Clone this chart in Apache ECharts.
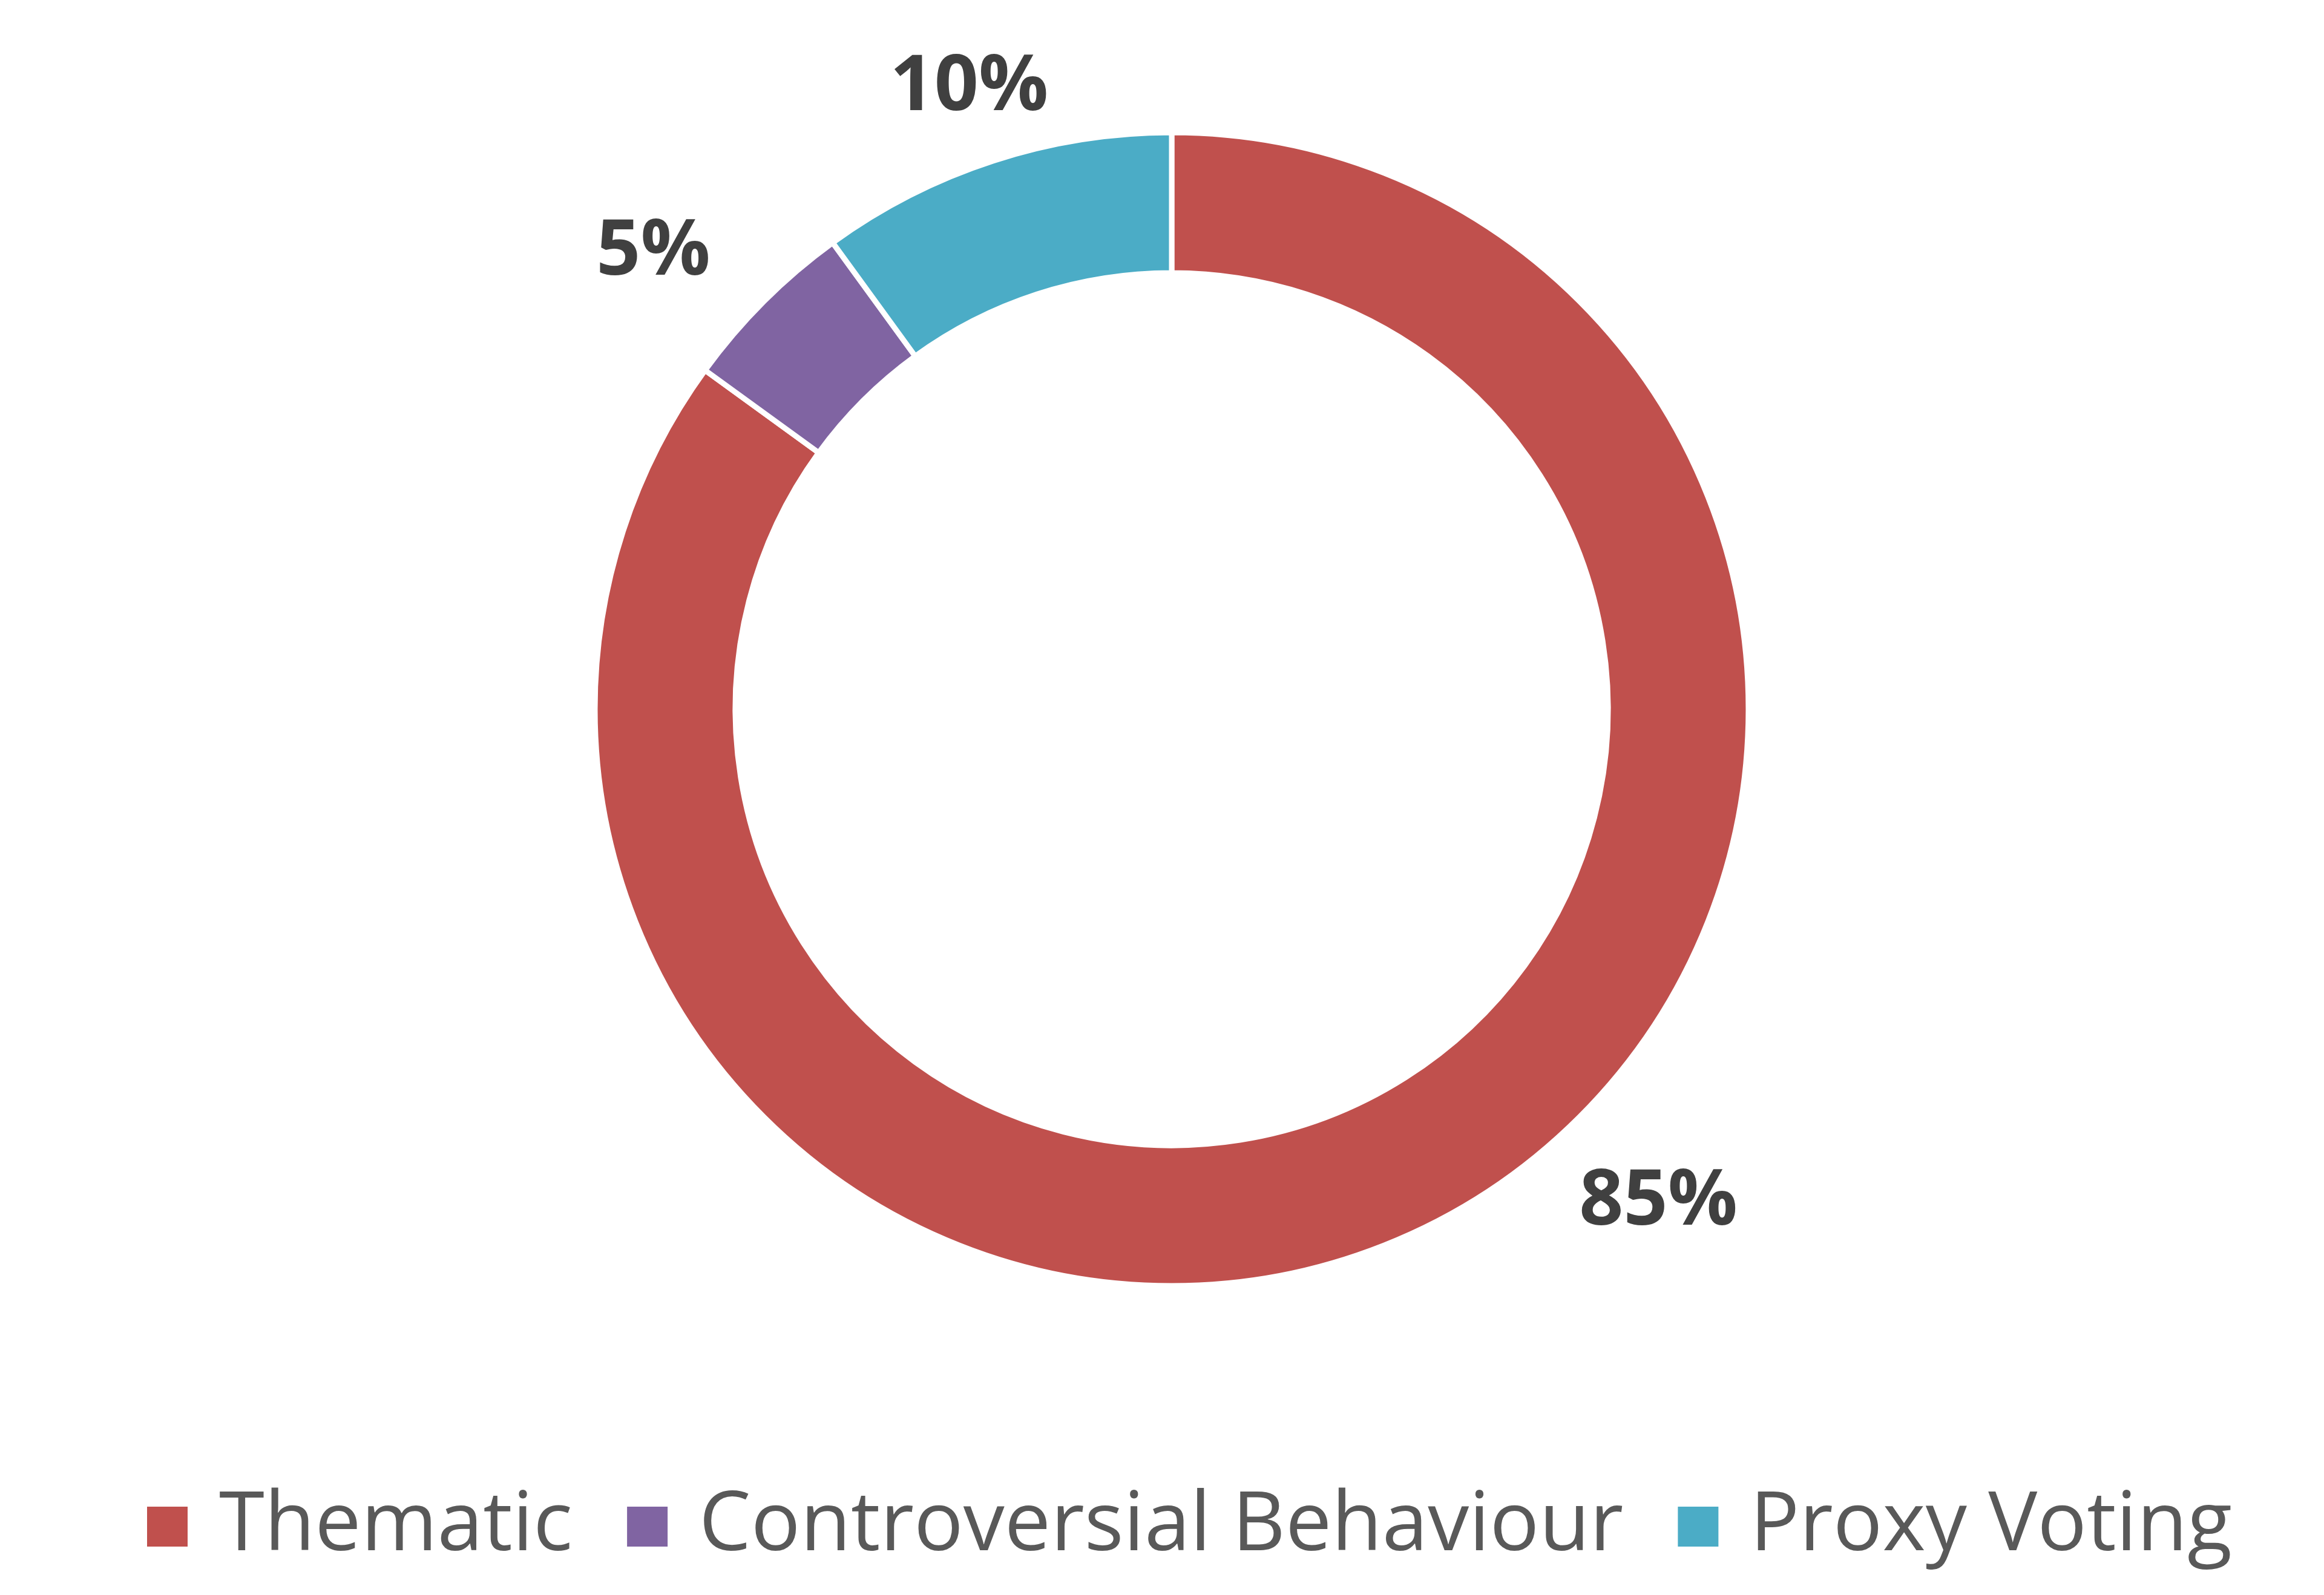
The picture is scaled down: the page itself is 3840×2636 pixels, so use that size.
<!DOCTYPE html>
<html>
<head>
<meta charset="utf-8">
<script src="https://cdn.jsdelivr.net/npm/echarts@6/dist/echarts.min.js"></script>
<style>
html,body{margin:0;padding:0;background:#fff;}
#chart{width:3840px;height:2636px;}
</style>
</head>
<body>
<div id="chart"></div>
<script>
const categories = ['Thematic', 'Controversial Behaviour', 'Proxy Voting'];
const values = [85, 5, 10];
const colors = ['#C0504D', '#8064A2', '#4BACC6'];

const chart = echarts.init(document.getElementById('chart'), null, {renderer: 'canvas'});
const data = categories.map((c, i) => ({name: c, value: values[i], itemStyle: {color: colors[i]}}));

// label nudges (px) to mimic the original label placement
const labelNudge = [[298, -178], [-68, 34], [10, 34]];

chart.setOption({
  backgroundColor: '#ffffff',
  animation: false,
  legend: {
    data: categories,
    left: 236,
    top: 2450,
    orient: 'horizontal',
    icon: 'rect',
    itemWidth: 69,
    itemHeight: 68,
    itemGap: 88,
    textStyle: {
      fontFamily: 'Open Sans',
      fontSize: 136,
      color: '#595959',
      padding: [0, 0, 0, 46]
    }
  },
  series: [{
    type: 'pie',
    center: [1936, 1172],
    radius: [721, 953],
    startAngle: 90,
    clockwise: true,
    avoidLabelOverlap: false,
    itemStyle: {borderColor: '#ffffff', borderWidth: 9},
    label: {
      show: true,
      position: 'outside',
      formatter: '{d}%',
      fontFamily: 'Open Sans',
      fontWeight: 'bold',
      fontSize: 128,
      color: '#404040',
      distanceToLabelLine: 0
    },
    labelLine: {show: false, length: 162, length2: 0},
    labelLayout: function (params) {
      const n = labelNudge[params.dataIndex];
      return {align: 'center', verticalAlign: 'middle', dx: n[0], dy: n[1]};
    },
    emphasis: {disabled: true},
    data: data
  }]
});
</script>
</body>
</html>
